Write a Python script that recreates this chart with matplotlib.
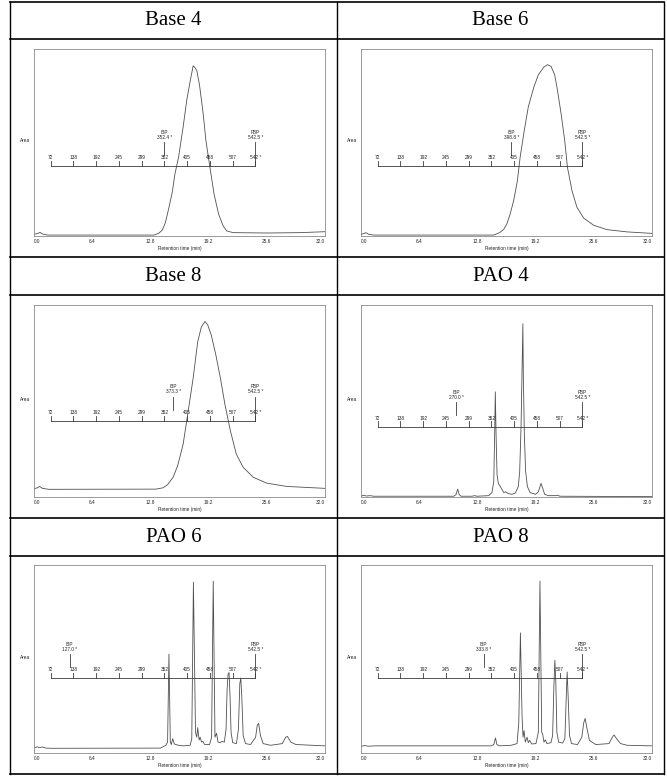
import matplotlib
matplotlib.use('Agg')
import matplotlib.pyplot as plt
from matplotlib.lines import Line2D
import numpy as np

plt.rcParams['font.family'] = ['Liberation Sans', 'DejaVu Sans']

# 每个小图的标题
titles = ['Base 4', 'Base 6', 'Base 8', 'PAO 4', 'PAO 6', 'PAO 8']

# 沸点刻度 (模拟蒸馏), 刻度在保留时间上的位置
bp_values = [72, 138, 192, 245, 299, 352, 405, 458, 507, 542]
bp_labels = ['72', '138', '192', '245', '299', '352', '405', '458', '507', '542 *']
bp_time = [1.83, 4.33, 6.83, 9.33, 11.83, 14.33, 16.83, 19.33, 21.83, 24.33]

# 初馏点 / 终馏点
ibp = [352.4, 398.8, 373.3, 270.0, 127.0, 333.8]
fbp = [542.5, 542.5, 542.5, 542.5, 542.5, 542.5]

x_ticks = [0.0, 6.4, 12.8, 19.2, 25.6, 32.0]

# 色谱曲线 (保留时间 min, 信号 %)
base4_t = [0, 0.44, 0.66, 0.91, 1.46, 13.2, 13.7, 14.1, 14.45, 14.8, 15.2, 15.5, 15.9, 16.4, 16.8,
           17.2, 17.5, 17.7, 17.9, 18.2, 18.6, 18.9, 19.4, 19.8, 20.3, 20.8, 21.2, 21.9, 25.6, 29.3, 32]
base4_y = [0.9, 1.4, 2.0, 1.1, 0.5, 0.5, 1.4, 3.1, 7.2, 14.4, 23.3, 33.2, 42.2, 58.3, 72.7,
           83.5, 91.0, 90.1, 88.5, 80.8, 65.5, 51.2, 35.0, 22.4, 11.7, 5.4, 2.7, 1.8, 1.6, 1.8, 2.3]

base6_t = [0, 0.37, 0.55, 0.84, 1.39, 14.6, 15.25, 15.7, 16.05, 16.4, 16.8, 17.2, 17.5, 17.96, 18.4,
           19.0, 19.5, 20.1, 20.5, 20.9, 21.3, 21.6, 22.0, 22.4, 22.7, 23.2, 23.75, 24.5, 25.6,
           27.05, 29.25, 32]
base6_y = [0.9, 1.4, 1.8, 0.9, 0.5, 0.5, 1.8, 3.6, 6.6, 11.7, 19.2, 29.6, 42.2, 56.6, 69.1,
           79.5, 86.2, 90.3, 91.6, 90.7, 86.2, 78.1, 65.5, 51.2, 36.8, 24.2, 15.3, 9.5, 5.7,
           3.4, 2.2, 1.4]

base8_t = [0, 0.37, 0.63, 0.92, 1.65, 13.4, 14.2, 14.7, 15.3, 15.8, 16.4, 16.9, 17.5, 18.0, 18.4,
           18.8, 19.1, 19.5, 20.0, 20.5, 21.0, 21.6, 22.25, 23.0, 24.1, 25.6, 27.8, 32]
base8_y = [4.3, 4.8, 5.5, 4.5, 4.0, 4.1, 4.8, 6.5, 10.3, 16.3, 27.5, 43.0, 61.9, 80.8, 88.5,
           91.4, 89.7, 84.2, 73.9, 61.9, 48.1, 34.4, 22.3, 15.5, 10.3, 7.2, 5.5, 4.5]

pao4_t = [0, 0.3, 0.6, 1.0, 1.4, 10.2, 10.45, 10.63, 10.8, 11.0, 12.2, 12.5, 12.75, 14.04, 14.4,
          14.6, 14.7, 14.77, 14.85, 14.96, 15.1, 15.4, 15.7, 15.9, 16.2, 16.6, 16.97, 17.3, 17.45,
          17.6, 17.7, 17.8, 17.85, 17.96, 18.1, 18.3, 18.6, 19.2, 19.5, 19.8, 19.98, 20.2, 20.6,
          21.4, 21.55, 21.9, 32]
pao4_y = [0.4, 0.9, 0.5, 0.7, 0.4, 0.4, 1.25, 4.1, 1.25, 0.4, 0.4, 0.7, 0.4, 0.7, 2.3,
          8.0, 33.0, 54.8, 33.0, 11.6, 7.1, 4.8, 2.3, 2.7, 1.8, 1.4, 2.1, 5.4, 13.4,
          36.6, 63.4, 90.2, 63.4, 33.0, 13.4, 5.4, 2.3, 1.4, 2.7, 7.1, 4.5, 1.4, 0.7,
          0.7, 0.9, 0.4, 0.2]

pao6_t = [0, 0.35, 0.6, 0.9, 1.3, 2.0, 13.9, 14.5, 14.69, 14.84, 14.99, 15.1, 15.25, 15.43, 15.87,
          16.43, 17.17, 17.35, 17.53, 17.76, 17.9, 18.0, 18.16, 18.27, 18.42, 18.57, 18.75,
          19.31, 19.53, 19.71, 19.9, 20.08, 20.23, 20.49, 20.67, 20.93, 21.12, 21.23, 21.34,
          21.45, 21.56, 21.67, 21.85, 22.26, 22.48, 22.63, 22.74, 22.85, 23.0, 23.26, 23.81,
          24.37, 24.55, 24.7, 24.9, 25.2, 26.02, 27.31, 27.68, 27.87, 28.24, 28.8, 32]
pao6_y = [2.6, 3.3, 2.8, 3.2, 2.6, 2.5, 2.6, 4.1, 5.8, 52.6, 5.8, 4.5, 7.6, 4.8, 4.1,
          3.8, 4.1, 7.6, 90.9, 11.0, 8.4, 13.5, 6.9, 8.4, 5.8, 6.2, 4.6,
          4.5, 8.4, 91.4, 8.4, 10.5, 5.8, 5.5, 6.2, 5.8, 12.7, 33.3, 41.9,
          42.8, 29.9, 11.0, 5.5, 5.0, 12.7, 36.8, 39.9, 29.9, 9.3, 5.0, 4.5,
          8.4, 14.7, 15.8, 9.3, 5.0, 4.1, 5.0, 8.4, 8.8, 5.8, 4.5, 3.8]

pao8_t = [0, 0.4, 0.8, 1.5, 14.31, 14.6, 14.79, 14.94, 15.23, 16.5, 17.16, 17.35, 17.53, 17.71,
          17.82, 17.93, 18.07, 18.26, 18.4, 18.55, 18.77, 19.24, 19.5, 19.68, 19.87, 19.97, 20.12,
          20.27, 20.45, 20.89, 21.07, 21.22, 21.32, 21.43, 21.54, 21.73, 22.17, 22.42, 22.57,
          22.67, 22.78, 22.93, 23.15, 23.81, 24.28, 24.5, 24.65, 24.83, 25.12, 25.81, 27.27,
          27.64, 27.82, 28.11, 28.55, 29.28, 32]
pao8_y = [3.5, 4.0, 3.6, 3.8, 3.8, 4.5, 8.0, 4.5, 3.8, 4.1, 5.0, 16.2, 63.9, 19.6,
          8.4, 11.9, 5.8, 8.4, 5.5, 6.7, 4.8, 5.0, 11.0, 91.4, 11.0, 10.2, 5.8,
          7.0, 5.0, 5.5, 9.3, 36.8, 49.3, 36.8, 11.0, 5.8, 5.3, 7.6, 29.9,
          43.1, 29.9, 9.3, 5.0, 4.5, 8.4, 16.2, 18.4, 13.6, 6.7, 4.5, 5.0,
          8.4, 9.6, 7.6, 5.0, 4.1, 3.8]

curves = [(base4_t, base4_y), (base6_t, base6_y), (base8_t, base8_y),
          (pao4_t, pao4_y), (pao6_t, pao6_y), (pao8_t, pao8_y)]

W, H = 667, 776
fig = plt.figure(figsize=(W / 100, H / 100), dpi=100)

# 表格线 (像素坐标)
col_x = [10, 337, 664]
row_y = [2, 39, 257, 295, 518, 556, 774]


def px_line(x0, y0, x1, y1, lw=1.0):
    fig.add_artist(Line2D([x0 / W, x1 / W], [1 - y0 / H, 1 - y1 / H],
                          transform=fig.transFigure, color='black', lw=lw))


for x in col_x:
    px_line(x, row_y[0], x, row_y[-1], lw=1.0)
for y in row_y:
    px_line(col_x[0], y, col_x[-1], y, lw=1.2)

# 小图位置
frame_x = [(34, 325), (361, 652)]
frame_y = [(49, 236), (305, 497), (565, 753)]
scale_y = [0.373, 0.373, 0.395, 0.366, 0.397, 0.397]

fs = 3.4
tc = '#222222'

for i in range(6):
    r, c = i // 2, i % 2
    # 表头
    hy = (row_y[2 * r] + row_y[2 * r + 1]) / 2
    hx = (col_x[c] + col_x[c + 1]) / 2
    fig.text(hx / W, 1 - hy / H, titles[i], ha='center', va='center',
             fontsize=15, family='Liberation Serif')

    x0, x1 = frame_x[c]
    y0, y1 = frame_y[r]
    ax = fig.add_axes([x0 / W, 1 - y1 / H, (x1 - x0) / W, (y1 - y0) / H])
    t, y = curves[i]
    ax.plot(t, y, color='#505050', lw=0.6)
    ax.set_xlim(0, 32)
    ax.set_ylim(0, 100)
    for sp in ax.spines.values():
        sp.set_color('#8a8a8a')
        sp.set_linewidth(0.6)
    ax.set_yticks([])
    ax.set_xticks(x_ticks)
    ax.set_xticklabels(['%.1f' % v for v in x_ticks], fontsize=fs, color=tc)
    ax.tick_params(axis='x', length=0, pad=2.5)
    labs = ax.get_xticklabels()
    labs[0].set_ha('left')
    labs[-1].set_ha('right')
    ax.set_xlabel('Retention time (min)', fontsize=fs, color=tc, labelpad=1.2)
    ax.text(-0.012, 0.51, 'Area', transform=ax.transAxes, ha='right', va='center',
            fontsize=fs, color=tc)

    # 沸点刻度
    sy = scale_y[i]
    tr = ax.get_xaxis_transform()
    ax.plot([bp_time[0], bp_time[-1]], [sy, sy], transform=tr, color='#3a3a3a', lw=0.6)
    for tt, lab in zip(bp_time, bp_labels):
        ax.plot([tt, tt], [sy, sy + 0.028], transform=tr, color='#3a3a3a', lw=0.6)
        ax.text(tt, sy + 0.032, lab, transform=tr, ha='center', va='bottom',
                fontsize=fs, color=tc)

    # IBP / FBP 标记
    ti = np.interp(ibp[i], bp_values, bp_time)
    tf = np.interp(fbp[i], bp_values, bp_time)
    ax.plot([ti, ti], [sy + 0.06, sy + 0.128], transform=tr, color='#3a3a3a', lw=0.6)
    ax.plot([tf, tf], [sy, sy + 0.128], transform=tr, color='#3a3a3a', lw=0.6)
    ax.text(ti, sy + 0.14, 'IBP\n%.1f *' % ibp[i], transform=tr, ha='center', va='bottom',
            fontsize=fs, color=tc, linespacing=1.0)
    ax.text(tf, sy + 0.14, 'FBP\n%.1f *' % fbp[i], transform=tr, ha='center', va='bottom',
            fontsize=fs, color=tc, linespacing=1.0)

plt.savefig('out.png', dpi=100)
